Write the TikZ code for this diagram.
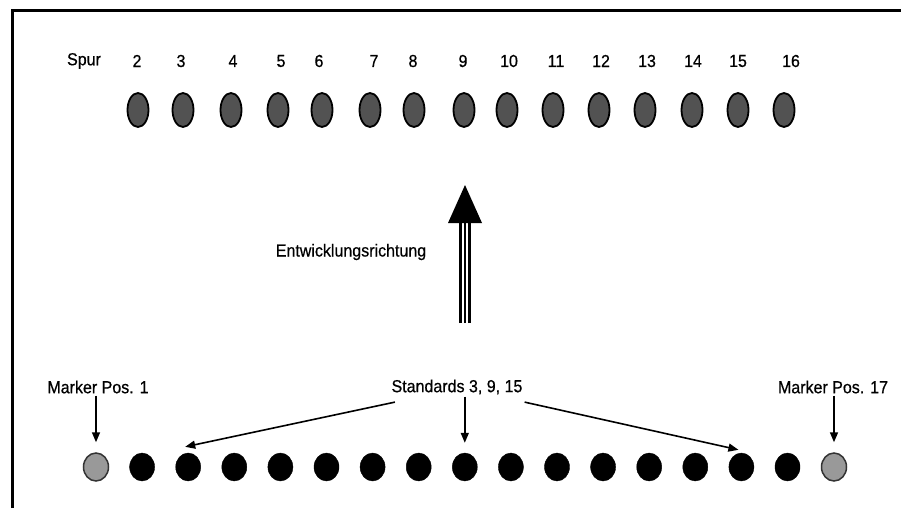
\documentclass[tikz,border=0pt]{standalone}
\usepackage{fontspec}
\setmainfont{Liberation Sans}[FakeStretch=0.92, BoldFont={Liberation Sans}, BoldFeatures={FakeBold=0.6, FakeStretch=0.92}]
\usetikzlibrary{shapes.geometric,arrows.meta}
\begin{document}
\begin{tikzpicture}[x=1pt,y=-1pt]
    \tikzstyle{spot} = [shape=ellipse, draw=black, fill=black!68, line width=1.8pt, minimum width=21pt, minimum height=34pt, inner sep=0pt]
    \tikzstyle{lanedot} = [shape=ellipse, draw=black, fill=black, minimum width=25pt, minimum height=28pt, inner sep=0pt]
    \tikzstyle{ladder} = [lanedot, draw=black!80, fill=black!40, line width=1.5pt]
    \tikzstyle{txt} = [font=\fontsize{17.4}{20}\selectfont\bfseries, inner sep=2pt]
    \tikzstyle{arr} = [-{Triangle[length=10pt,width=8pt]}, line width=1.6pt]
    \useasboundingbox (0,0) rectangle (901,508);
    \draw[line width=3pt] (12,508) -- (12,10.5) -- (901,10.5);

    % Spuren oben
    \node (spur) [txt] at (84,61) {Spur};
    \foreach \n/\t/\s in {2/137/138, 3/181/183, 4/233/231, 5/281/278, 6/319/322, 7/374/370,
                          8/413/414, 9/463/464, 10/509/507, 11/556/553, 12/601/599, 13/647/645,
                          14/693/692, 15/738/738, 16/791/784} {
        \node (n\n) [txt] at (\t,61) {\n};
        \node (s\n) [spot] at (\s,110) {};
    }

    % Entwicklungsrichtung
    \coordinate (tail) at (465,323);
    \coordinate (tip) at (465,185);
    \foreach \d in {-4.5,0,4.5}
        \draw[line width=2.5pt] ([xshift=\d pt]tail) -- ([xshift=\d pt, yshift=101pt]tail);
    \fill ([xshift=-17pt, yshift=100pt]tail) -- (tip) -- ([xshift=17pt, yshift=100pt]tail) -- cycle;
    \node (dir) [txt] at (351,252) {Entwicklungsrichtung};

    % Auftragspositionen unten
    \node (p1) [ladder] at (96,467) {};
    \foreach \i in {2,...,16}
        \node (p\i) [lanedot] at ({96+46.1*(\i-1)},467) {};
    \node (p17) [ladder] at (834,467) {};

    \node (m1) [txt] at (98,387) {Marker Pos. 1};
    \node (st) [txt] at (457,387) {Standards 3, 9, 15};
    \node (m17) [txt] at (833,387) {Marker Pos. 17};

    \draw[arr] (m1.south -| p1) -- ([yshift=10pt]p1.north);
    \draw[arr] (st.south -| p9) -- ([yshift=10pt]p9.north);
    \draw[arr] (m17.south -| p17) -- ([yshift=10pt]p17.north);
    \draw[arr] ([shift={(5.5pt,-5.5pt)}]st.south west) -- ([shift={(-3pt,6pt)}]p3.north);
    \draw[arr] ([shift={(0pt,-5.5pt)}]st.south east) -- ([shift={(-3pt,3pt)}]p15.north);
\end{tikzpicture}
\end{document}
